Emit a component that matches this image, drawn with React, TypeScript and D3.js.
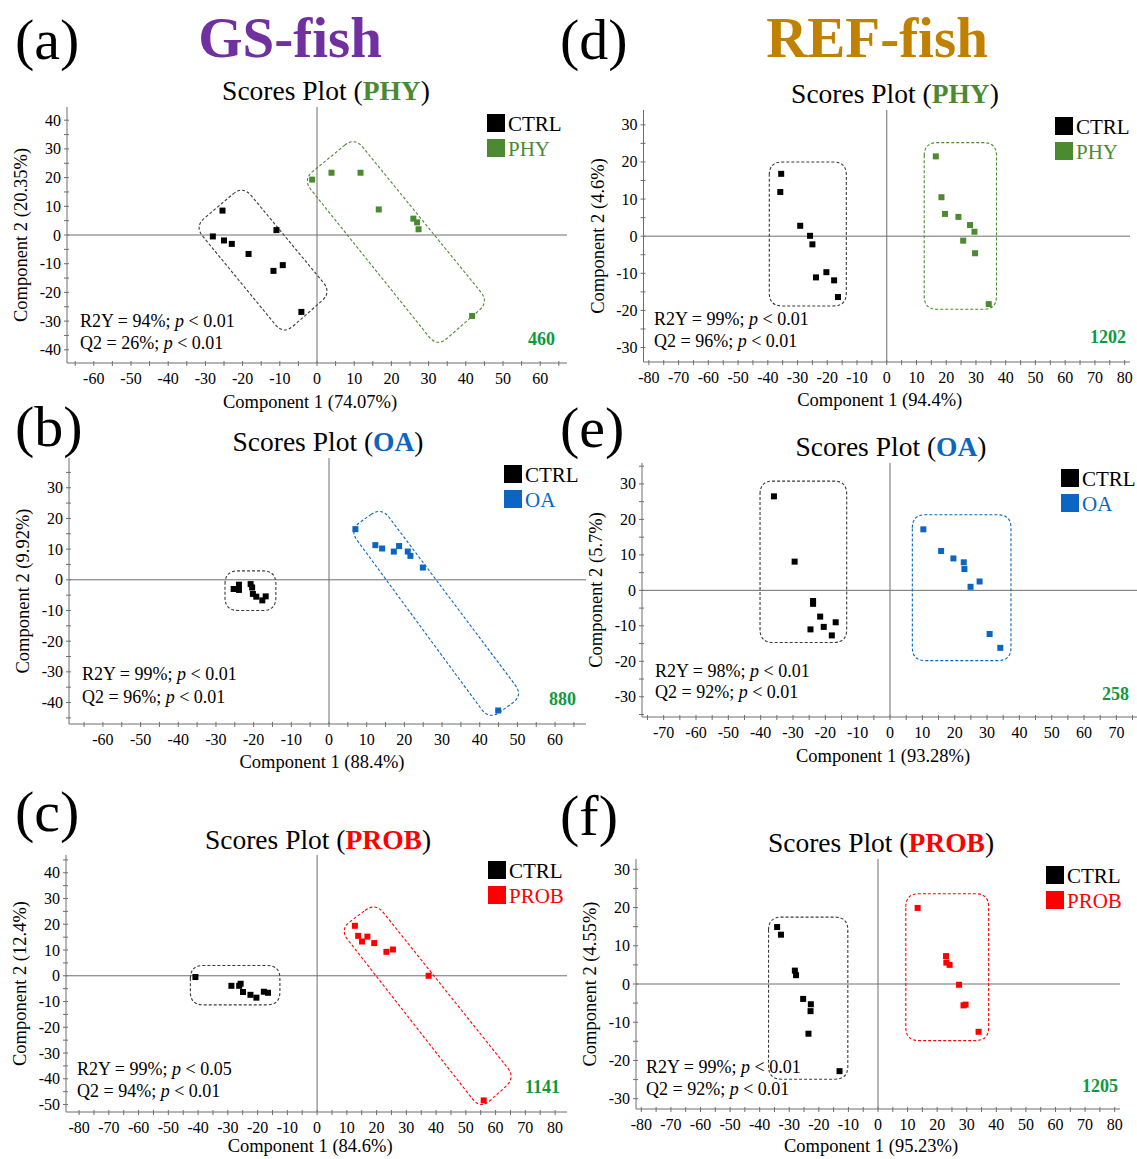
import React from 'react';
import * as d3 from 'd3';

type Pt = [number, number];

const SERIF = "'Liberation Serif', 'Times New Roman', Times, serif";
const GREEN = '#4b8a30';
const BLUE = '#0a66c2';
const RED = '#ff0000';
const NUM_GREEN = '#0c9a3e';

// ---- (a) GS-fish, PHY
const aCtrl: Pt[] = [[-25.4, 8.5], [-28.0, -0.5], [-25.0, -1.9], [-22.9, -3.1], [-18.4, -6.6], [-10.9, 1.7], [-11.7, -12.5], [-9.2, -10.5], [-4.2, -26.8]];
const aPhy: Pt[] = [[-1.3, 19.3], [3.9, 21.7], [11.7, 21.7], [16.6, 8.9], [25.9, 5.7], [26.9, 4.4], [27.3, 2.0], [41.7, -28.2]];
const aCtrlBox: Pt[] = [[-19.9, 17.2], [3.9, -20.0], [-9.0, -34.7], [-32.9, 3.0]];
const aPhyBox: Pt[] = [[10.1, 34.1], [46.2, -23.3], [32.3, -39.0], [-3.8, 19.3]];

// ---- (b) GS-fish, OA
const bCtrl: Pt[] = [[-25.3, -3.0], [-23.9, -1.6], [-23.9, -3.3], [-20.8, -1.4], [-20.4, -2.5], [-20.2, -4.6], [-19.3, -5.5], [-17.7, -6.7], [-16.8, -5.4]];
const bOa: Pt[] = [[7.0, 16.5], [12.3, 11.3], [14.1, 10.2], [17.2, 9.2], [18.6, 11.0], [20.9, 9.2], [21.6, 7.8], [24.9, 4.0], [44.9, -42.6]];
const bCtrlBox: Pt[] = [[-27.6, 2.9], [-14.1, 2.9], [-14.1, -10.0], [-27.6, -10.0]];
const bOaBox: Pt[] = [[13.9, 23.7], [51.5, -37.7], [42.5, -45.6], [5.4, 16.3]];

// ---- (c) GS-fish, PROB
const cCtrl: Pt[] = [[-40.9, -0.5], [-28.8, -3.9], [-26.2, -3.9], [-25.7, -3.1], [-24.9, -6.3], [-22.4, -7.4], [-20.4, -8.5], [-17.9, -6.2], [-16.5, -6.6]];
const cProb: Pt[] = [[12.7, 19.4], [13.8, 15.5], [15.1, 13.3], [16.9, 15.2], [19.2, 12.7], [23.3, 9.3], [25.5, 10.2], [37.5, 0.0], [56.0, -48.4]];
const cCtrlBox: Pt[] = [[-42.6, 4.0], [-12.5, 4.0], [-12.5, -11.3], [-42.6, -11.3]];
const cProbBox: Pt[] = [[19.6, 28.4], [66.7, -39.6], [54.9, -51.8], [7.6, 18.0]];

// ---- (d) REF-fish, PHY
const dCtrl: Pt[] = [[-35.5, 16.8], [-35.8, 11.9], [-29.1, 2.8], [-25.8, 0.1], [-25.0, -2.2], [-23.8, -11.1], [-20.3, -9.7], [-17.7, -11.9], [-16.4, -16.4]];
const dPhy: Pt[] = [[16.5, 21.5], [18.4, 10.5], [19.6, 6.0], [24.1, 5.2], [28.0, 3.0], [29.5, 1.2], [25.7, -1.2], [29.7, -4.6], [34.3, -18.3]];
const dCtrlBox: Pt[] = [[-39.5, 20.0], [-13.6, 20.0], [-13.6, -18.8], [-39.5, -18.8]];
const dPhyBox: Pt[] = [[12.6, 25.2], [36.9, 25.2], [36.9, -19.7], [12.6, -19.7]];

// ---- (e) REF-fish, OA
const eCtrl: Pt[] = [[-35.9, 26.5], [-29.5, 8.1], [-23.8, -3.0], [-23.8, -3.8], [-21.6, -7.4], [-24.6, -11.0], [-20.5, -10.3], [-16.8, -9.0], [-18.0, -12.7]];
const eOa: Pt[] = [[10.3, 17.2], [15.8, 11.1], [19.6, 9.0], [22.8, 7.9], [23.0, 6.0], [24.9, 1.0], [27.7, 2.5], [30.8, -12.3], [34.1, -16.2]];
const eCtrlBox: Pt[] = [[-40.2, 30.8], [-13.4, 30.8], [-13.4, -14.7], [-40.2, -14.7]];
const eOaBox: Pt[] = [[6.9, 21.3], [37.4, 21.3], [37.4, -19.8], [6.9, -19.8]];

// ---- (f) REF-fish, PROB
const fCtrl: Pt[] = [[-34.1, 14.9], [-32.8, 12.9], [-28.1, 3.5], [-27.7, 2.3], [-25.3, -3.9], [-22.7, -5.3], [-22.8, -7.1], [-23.5, -13.0], [-13.0, -22.8]];
const fProb: Pt[] = [[13.4, 19.9], [23.0, 7.3], [23.1, 5.6], [24.2, 5.0], [27.4, -0.2], [28.9, -5.6], [29.6, -5.4], [34.0, -12.5]];
const fCtrlBox: Pt[] = [[-37.0, 17.5], [-10.2, 17.5], [-10.2, -24.9], [-37.0, -24.9]];
const fProbBox: Pt[] = [[9.4, 23.6], [37.4, 23.6], [37.4, -14.8], [9.4, -14.8]];

// tick labels
const xTicks60 = [-60, -50, -40, -30, -20, -10, 0, 10, 20, 30, 40, 50, 60];
const xTicks70 = [-70, -60, -50, -40, -30, -20, -10, 0, 10, 20, 30, 40, 50, 60, 70];
const xTicks80 = [-80, -70, -60, -50, -40, -30, -20, -10, 0, 10, 20, 30, 40, 50, 60, 70, 80];
const yTicksA = [-40, -30, -20, -10, 0, 10, 20, 30, 40];
const yTicksB = [-40, -30, -20, -10, 0, 10, 20, 30];
const yTicksC = [-50, -40, -30, -20, -10, 0, 10, 20, 30, 40];
const yTicks30 = [-30, -20, -10, 0, 10, 20, 30];

interface PanelDef {
  id: string; group: string; color: string;
  ctrl: Pt[]; trt: Pt[]; ctrlBox: Pt[]; trtBox: Pt[];
  xTicks: number[]; yTicks: number[];
  xLabel: string; yLabel: string;
  r2y: [string, string]; q2: [string, string]; count: string;
  left: number; right: number; top: number; bottom: number;
  xDom: [number, number]; yDom: [number, number];
  tag: [number, number]; titleX: number; titleY: number; xLabelY: number;
  leg: [number, number]; stat: [number, number, number]; num: [number, number];
}

const panels: PanelDef[] = [
  {
    id: 'a', group: 'PHY', color: GREEN, ctrl: aCtrl, trt: aPhy, ctrlBox: aCtrlBox, trtBox: aPhyBox,
    xTicks: xTicks60, yTicks: yTicksA, xLabel: 'Component 1 (74.07%)', yLabel: 'Component 2 (20.35%)',
    r2y: ['94%', '0.01'], q2: ['26%', '0.01'], count: '460',
    left: 67, right: 567, top: 107, bottom: 363, xDom: [-67.2, 67.2], yDom: [-44.6, 44.6],
    tag: [15, 59], titleX: 326, titleY: 100, xLabelY: 408, leg: [487, 114], stat: [80, 327, 349], num: [555, 345],
  },
  {
    id: 'b', group: 'OA', color: BLUE, ctrl: bCtrl, trt: bOa, ctrlBox: bCtrlBox, trtBox: bOaBox,
    xTicks: xTicks60, yTicks: yTicksB, xLabel: 'Component 1 (88.4%)', yLabel: 'Component 2 (9.92%)',
    r2y: ['99%', '0.01'], q2: ['96%', '0.01'], count: '880',
    left: 69, right: 586, top: 458, bottom: 724, xDom: [-69, 68.2], yDom: [-47, 39.7],
    tag: [15, 446], titleX: 328, titleY: 451, xLabelY: 768, leg: [504, 465], stat: [82, 680, 703], num: [576, 705],
  },
  {
    id: 'c', group: 'PROB', color: RED, ctrl: cCtrl, trt: cProb, ctrlBox: cCtrlBox, trtBox: cProbBox,
    xTicks: xTicks80, yTicks: yTicksC, xLabel: 'Component 1 (84.6%)', yLabel: 'Component 2 (12.4%)',
    r2y: ['99%', '0.05'], q2: ['94%', '0.01'], count: '1141',
    left: 66, right: 567, top: 855, bottom: 1112, xDom: [-84.4, 84.0], yDom: [-52.9, 46.9],
    tag: [15, 831], titleX: 318, titleY: 849, xLabelY: 1152, leg: [488, 861], stat: [77, 1075, 1097], num: [560, 1093],
  },
  {
    id: 'd', group: 'PHY', color: GREEN, ctrl: dCtrl, trt: dPhy, ctrlBox: dCtrlBox, trtBox: dPhyBox,
    xTicks: xTicks80, yTicks: yTicks30, xLabel: 'Component 1 (94.4%)', yLabel: 'Component 2 (4.6%)',
    r2y: ['99%', '0.01'], q2: ['96%', '0.01'], count: '1202',
    left: 643.5, right: 1130, top: 110, bottom: 362, xDom: [-81.8, 81.8], yDom: [-33.9, 34],
    tag: [560, 59], titleX: 895, titleY: 103, xLabelY: 406, leg: [1055, 117], stat: [654, 325, 347], num: [1126, 343],
  },
  {
    id: 'e', group: 'OA', color: BLUE, ctrl: eCtrl, trt: eOa, ctrlBox: eCtrlBox, trtBox: eOaBox,
    xTicks: xTicks70, yTicks: yTicks30, xLabel: 'Component 1 (93.28%)', yLabel: 'Component 2 (5.7%)',
    r2y: ['98%', '0.01'], q2: ['92%', '0.01'], count: '258',
    left: 642, right: 1140, top: 463, bottom: 717, xDom: [-76.7, 77.3], yDom: [-35.7, 35.9],
    tag: [560, 447], titleX: 891, titleY: 456, xLabelY: 762, leg: [1061, 469], stat: [655, 677, 698], num: [1129, 700],
  },
  {
    id: 'f', group: 'PROB', color: RED, ctrl: fCtrl, trt: fProb, ctrlBox: fCtrlBox, trtBox: fProbBox,
    xTicks: xTicks80, yTicks: yTicks30, xLabel: 'Component 1 (95.23%)', yLabel: 'Component 2 (4.55%)',
    r2y: ['99%', '0.01'], q2: ['92%', '0.01'], count: '1205',
    left: 636, right: 1120, top: 859, bottom: 1109, xDom: [-81.8, 81.8], yDom: [-32.7, 32.7],
    tag: [560, 835], titleX: 881, titleY: 852, xLabelY: 1152, leg: [1046, 866], stat: [646, 1073, 1095], num: [1118, 1092],
  },
];

// polygon with rounded corners (quadratic curves at each vertex)
function roundedPoly(pts: Pt[], r: number): string {
  const n = pts.length;
  let d = '';
  for (let i = 0; i < n; i++) {
    const [x0, y0] = pts[(i + n - 1) % n];
    const [x1, y1] = pts[i];
    const [x2, y2] = pts[(i + 1) % n];
    const l1 = Math.hypot(x0 - x1, y0 - y1);
    const l2 = Math.hypot(x2 - x1, y2 - y1);
    const r1 = Math.min(r, l1 / 2);
    const r2 = Math.min(r, l2 / 2);
    const ax = x1 + ((x0 - x1) / l1) * r1, ay = y1 + ((y0 - y1) / l1) * r1;
    const bx = x1 + ((x2 - x1) / l2) * r2, by = y1 + ((y2 - y1) / l2) * r2;
    d += `${i === 0 ? 'M' : 'L'}${ax},${ay}Q${x1},${y1} ${bx},${by}`;
  }
  return d + 'Z';
}

const Panel: React.FC<{ p: PanelDef }> = ({ p }) => {
  const x = d3.scaleLinear().domain(p.xDom).range([p.left, p.right]);
  const y = d3.scaleLinear().domain(p.yDom).range([p.bottom, p.top]);
  const minorX = d3.range(Math.ceil(p.xDom[0] / 5) * 5, p.xDom[1] + 0.01, 5);
  const minorY = d3.range(Math.ceil(p.yDom[0] / 5) * 5, p.yDom[1] + 0.01, 5);
  const box = (pts: Pt[]) => roundedPoly(pts.map(([a, b]) => [x(a), y(b)] as Pt), 13);
  const axisColor = '#6e6e6e';
  const sq = 6;
  const midY = (p.top + p.bottom) / 2;

  return (
    <g>
      <text x={p.tag[0]} y={p.tag[1]} fontSize={58}>({p.id})</text>
      <text x={p.titleX} y={p.titleY} textAnchor="middle" fontSize={27.5}>
        Scores Plot (<tspan fontWeight="bold" fill={p.color}>{p.group}</tspan>)
      </text>

      {/* axes */}
      <line x1={p.left} x2={p.left} y1={p.top} y2={p.bottom} stroke={axisColor} strokeWidth={1} />
      <line x1={p.left} x2={p.right} y1={p.bottom} y2={p.bottom} stroke={axisColor} strokeWidth={1} />
      {minorX.map(v => (
        <line key={'mx' + v} x1={x(v)} x2={x(v)} y1={p.bottom - 2} y2={p.bottom + 3} stroke={axisColor} />
      ))}
      {minorY.map(v => (
        <line key={'my' + v} x1={p.left - 3} x2={p.left + 2} y1={y(v)} y2={y(v)} stroke={axisColor} />
      ))}
      {p.xTicks.map(v => (
        <text key={'tx' + v} x={x(v)} y={p.bottom + 21} textAnchor="middle" fontSize={16}>{v}</text>
      ))}
      {p.yTicks.map(v => (
        <text key={'ty' + v} x={p.left - 6} y={y(v) + 5.5} textAnchor="end" fontSize={16}>{v}</text>
      ))}
      <text x={x(0) - 7} y={p.xLabelY} textAnchor="middle" fontSize={18.5}>{p.xLabel}</text>
      <text transform={`translate(${p.left - 40},${midY}) rotate(-90)`} textAnchor="middle" fontSize={18.5}>{p.yLabel}</text>

      {/* zero lines */}
      <line x1={x(0)} x2={x(0)} y1={p.top} y2={p.bottom} stroke={axisColor} strokeWidth={1} />
      <line x1={p.left} x2={p.right} y1={y(0)} y2={y(0)} stroke={axisColor} strokeWidth={1} />

      {/* group boxes */}
      <path d={box(p.ctrlBox)} fill="none" stroke="#3a3a3a" strokeWidth={1.1} strokeDasharray="3,2" />
      <path d={box(p.trtBox)} fill="none" stroke={p.color} strokeWidth={1.1} strokeDasharray="3,2" />

      {/* points */}
      {p.ctrl.map((d, i) => (
        <rect key={'c' + i} x={x(d[0]) - sq / 2} y={y(d[1]) - sq / 2} width={sq} height={sq} fill="#000" />
      ))}
      {p.trt.map((d, i) => (
        <rect key={'t' + i} x={x(d[0]) - sq / 2} y={y(d[1]) - sq / 2} width={sq} height={sq} fill={p.color} />
      ))}

      {/* legend */}
      <rect x={p.leg[0]} y={p.leg[1]} width={18} height={18} fill="#000" />
      <text x={p.leg[0] + 21} y={p.leg[1] + 17} fontSize={21}>CTRL</text>
      <rect x={p.leg[0]} y={p.leg[1] + 25} width={18} height={18} fill={p.color} />
      <text x={p.leg[0] + 21} y={p.leg[1] + 42} fontSize={21} fill={p.color}>{p.group}</text>

      {/* statistics */}
      <text x={p.stat[0]} y={p.stat[1]} fontSize={18}>
        R2Y = {p.r2y[0]}; <tspan fontStyle="italic">p</tspan> &lt; {p.r2y[1]}
      </text>
      <text x={p.stat[0]} y={p.stat[2]} fontSize={18}>
        Q2 = {p.q2[0]}; <tspan fontStyle="italic">p</tspan> &lt; {p.q2[1]}
      </text>
      <text x={p.num[0]} y={p.num[1]} textAnchor="end" fontSize={18} fontWeight="bold" fill={NUM_GREEN}>{p.count}</text>
    </g>
  );
};

export default function App() {
  return (
    <svg
      width={1137}
      height={1159}
      viewBox="0 0 1137 1159"
      style={{ position: 'absolute', left: 0, top: 0, background: '#fff' }}
      fontFamily={SERIF}
    >
      <rect width={1137} height={1159} fill="#fff" />
      <text x={290} y={57} textAnchor="middle" fontSize={57} fontWeight="bold" fill="#7030a0">GS-fish</text>
      <text x={877} y={57} textAnchor="middle" fontSize={57} fontWeight="bold" fill="#c08000">REF-fish</text>
      {panels.map(p => <Panel key={p.id} p={p} />)}
    </svg>
  );
}
